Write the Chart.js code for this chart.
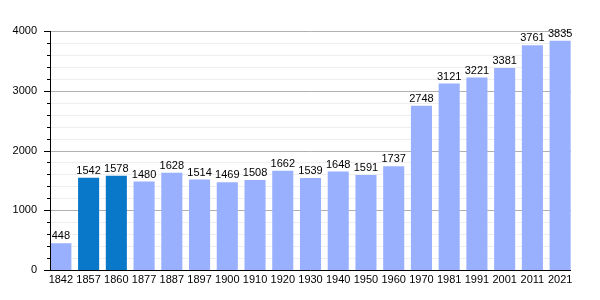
<!DOCTYPE html>
<html>
<head>
<meta charset="utf-8">
<script src="https://cdn.jsdelivr.net/npm/chart.js@4"></script>
<style>
  html, body { margin: 0; padding: 0; background: #fff; }
  #wrap { width: 600px; height: 300px; }
</style>
</head>
<body>
<div id="wrap"><canvas id="chart"></canvas></div>
<script>
// data
const years = ["1842", "1857", "1860", "1877", "1887", "1897", "1900", "1910", "1920", "1930",
    "1940", "1950", "1960", "1970", "1981", "1991", "2001", "2011", "2021"];
const population = [448, 1542, 1578, 1480, 1628, 1514, 1469, 1508, 1662, 1539,
    1648, 1591, 1737, 2748, 3121, 3221, 3381, 3761, 3835];
const highlighted = ["1857", "1860"];
const yTicks = [0, 1000, 2000, 3000, 4000];

const lightBlue = "#99b0ff";
const darkBlue = "#0a78c8";
const font = "Liberation Sans, Arial, sans-serif";
const axisX = 50;   // where the vertical axis line sits
const axisEnd = 571; // where the horizontal axis line stops

// grid lines behind the bars (major every 1000, minor every 200)
const gridLines = {
    id: "gridLines",
    beforeDatasetsDraw(chart) {
        const ctx = chart.ctx;
        const y = chart.scales.y;
        ctx.save();
        ctx.lineWidth = 1;
        for (let v = 200; v <= 4000; v += 200) {
            const py = Math.round(y.getPixelForValue(v)) + 0.5;
            ctx.strokeStyle = v % 1000 === 0 ? "#b0b0b0" : "#eeeeee";
            ctx.beginPath();
            ctx.moveTo(axisX, py);
            ctx.lineTo(axisEnd, py);
            ctx.stroke();
        }
        ctx.restore();
    }
};

// value labels above the bars
const valueLabels = {
    id: "valueLabels",
    afterDatasetsDraw(chart) {
        const ctx = chart.ctx;
        const meta = chart.getDatasetMeta(0);
        ctx.save();
        ctx.font = "11px " + font;
        ctx.fillStyle = "#000";
        ctx.textAlign = "center";
        ctx.textBaseline = "alphabetic";
        meta.data.forEach((bar, i) => {
            ctx.fillText(population[i], bar.x, bar.y - 4);
        });
        ctx.restore();
    }
};

// axis lines and tick marks
const axisMarks = {
    id: "axisMarks",
    afterDraw(chart) {
        const ctx = chart.ctx;
        const area = chart.chartArea;
        const y = chart.scales.y;
        ctx.save();
        ctx.strokeStyle = "#000";
        ctx.lineWidth = 1;
        ctx.beginPath();
        for (let v = 0; v <= 4000; v += 200) {
            const py = Math.round(y.getPixelForValue(v)) + 0.5;
            const len = v % 1000 === 0 ? 6 : 3;
            ctx.moveTo(axisX - len, py);
            ctx.lineTo(axisX + 1, py);
        }
        ctx.moveTo(axisX + 0.5, area.top);
        ctx.lineTo(axisX + 0.5, area.bottom + 1);
        ctx.moveTo(axisX, Math.round(area.bottom) + 0.5);
        ctx.lineTo(axisEnd, Math.round(area.bottom) + 0.5);
        ctx.stroke();
        ctx.restore();
    }
};

new Chart(document.getElementById("chart"), {
    type: "bar",
    data: {
        labels: years,
        datasets: [{
            data: population,
            backgroundColor: years.map((y) => highlighted.includes(y) ? darkBlue : lightBlue),
            barPercentage: 0.76,
            categoryPercentage: 1
        }]
    },
    options: {
        responsive: true,
        maintainAspectRatio: false,
        animation: false,
        layout: { padding: { top: 31, right: 26, left: 0, bottom: 0 } },
        plugins: { legend: { display: false }, tooltip: { enabled: false } },
        scales: {
            x: {
                grid: { display: false, drawTicks: false },
                border: { display: false },
                ticks: { color: "#000", font: { family: font, size: 11 }, padding: 3, maxRotation: 0, autoSkip: false },
                afterFit: (scale) => { scale.height = 30; }
            },
            y: {
                min: 0,
                max: 4000,
                ticks: {
                    stepSize: 200,
                    autoSkip: false,
                    color: "#000",
                    font: { family: font, size: 11 },
                    padding: 10,
                    callback: (v) => yTicks.includes(v) ? v : ""
                },
                grid: { display: false, drawTicks: false },
                border: { display: false },
                afterFit: (scale) => { scale.width = 47; }
            }
        }
    },
    plugins: [gridLines, valueLabels, axisMarks]
});
</script>
</body>
</html>
